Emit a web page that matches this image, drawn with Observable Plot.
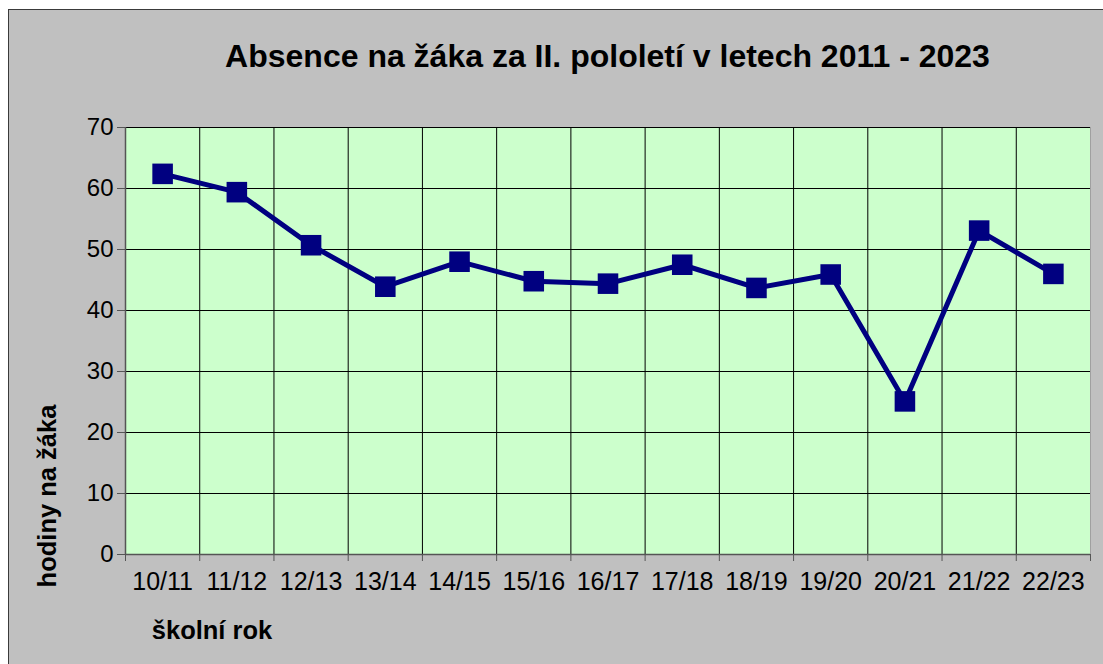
<!DOCTYPE html>
<html><head><meta charset="utf-8">
<script src="https://cdn.jsdelivr.net/npm/d3@7"></script>
<script src="https://cdn.jsdelivr.net/npm/@observablehq/plot@0.6"></script>
<style>
body{margin:0;background:#fff;font-family:Arial,"Liberation Sans",sans-serif;}
#chart{position:absolute;left:8px;top:9px;width:1095px;height:655px;border-left:1px solid #3a3a3a;border-top:1px solid #3a3a3a;background:#c0c0c0;overflow:hidden;}
#title{height:89px;box-sizing:border-box;padding:30px 14px 0 116px;text-align:center;font-weight:bold;font-size:32px;line-height:32px;color:#000;white-space:nowrap;}
.axt{position:absolute;font-weight:bold;font-size:25.5px;color:#000;white-space:nowrap;}
#ylab{left:38px;top:486px;transform:translate(-50%,-50%) rotate(-90deg);}
#xlab{left:203px;top:620px;transform:translate(-50%,-50%);}
</style>
</head><body>
<div id="chart">
  <div id="title">Absence na žáka za II. pololetí v letech 2011 - 2023</div>
  <div id="plot"></div>
  <div class="axt" id="ylab">hodiny na žáka</div>
  <div class="axt" id="xlab">školní rok</div>
</div>
<script>
const categories = ["10/11","11/12","12/13","13/14","14/15","15/16","16/17","17/18","18/19","19/20","20/21","21/22","22/23"];
const values = [62.4, 59.4, 50.7, 43.9, 48.0, 44.8, 44.4, 47.5, 43.7, 45.9, 25.1, 53.1, 46.0];
const yTicks = [0, 10, 20, 30, 40, 50, 60, 70];

const data = categories.map((c, i) => ({pos: i + 0.5, label: c, value: values[i]}));
const bounds = d3.range(categories.length + 1);

const chart = Plot.plot({
  width: 1095,
  height: 565,
  marginLeft: 116,
  marginRight: 14,
  marginTop: 28,
  marginBottom: 110,
  style: {background: "transparent", fontFamily: "Arial, 'Liberation Sans', sans-serif", fontSize: "24px", color: "#000", overflow: "visible"},
  x: {domain: [0, categories.length], axis: null},
  y: {domain: [0, 70], axis: null},
  marks: [
    Plot.frame({fill: "#ccffcc", stroke: null}),
    Plot.gridY(yTicks, {stroke: "#000", strokeOpacity: 1}),
    Plot.gridX(bounds, {stroke: "#000", strokeOpacity: 1}),
    Plot.ruleX([categories.length], {stroke: "#a0a0a0"}),
    Plot.axisY(yTicks, {tickSize: 8, tickPadding: 4, label: null, stroke: "#555", fill: "#000", fontSize: 24}),
    Plot.axisX(bounds, {tickSize: 7, tickFormat: () => "", label: null, stroke: "#555"}),
    Plot.axisX(data.map(d => d.pos), {tickSize: 0, tickPadding: 18, tickFormat: p => categories[Math.floor(p)], label: null, fill: "#000", fontSize: 25}),
    Plot.ruleX([0], {stroke: "#555", strokeWidth: 1.5}),
    Plot.ruleY([0], {stroke: "#555", strokeWidth: 1.5}),
    Plot.line(data, {x: "pos", y: "value", stroke: "#000080", strokeWidth: 5}),
    Plot.dot(data, {x: "pos", y: "value", symbol: "square", r: 11.6, fill: "#000080", stroke: null})
  ]
});
document.getElementById("plot").appendChild(chart);
</script>
</body></html>
